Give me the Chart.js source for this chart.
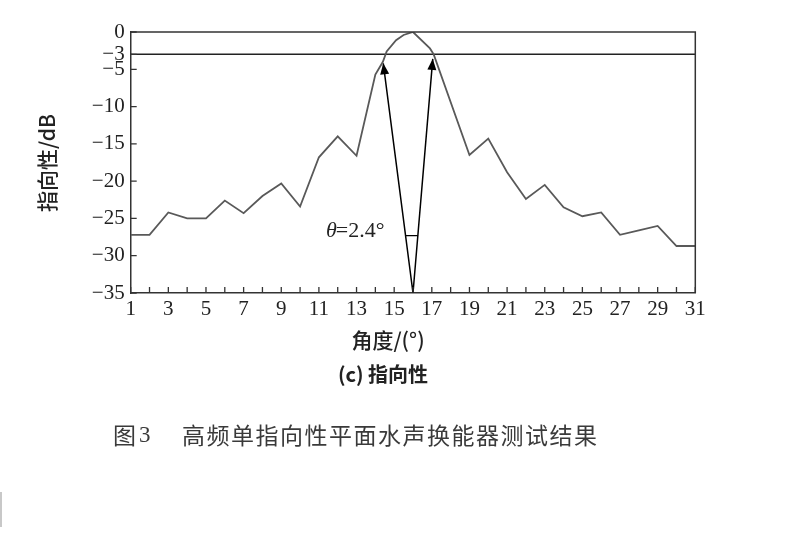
<!DOCTYPE html>
<html>
<head>
<meta charset="utf-8">
<script src="https://cdn.jsdelivr.net/npm/chart.js@4.4.1/dist/chart.umd.min.js"></script>
<style>
  html, body { margin: 0; padding: 0; background: #fff; }
  #wrap { position: relative; width: 789px; height: 535px; }
  #edge { position: absolute; left: 0; top: 492px; width: 2px; height: 35px; background: #c8c8c8; }
</style>
</head>
<body>
<div id="wrap">
  <canvas id="dirChart" width="789" height="535"></canvas>
  <div id="edge"></div>
</div>
<script>
// ─── Data ─────────────────────────────────────────────────────────────────────
const angles = [1, 2, 3, 4, 5, 6, 7, 8, 9, 10, 11, 12, 13, 14, 14.4, 14.6, 15.1, 15.5, 16,
                16.9, 17.1, 19, 20, 21, 22, 23, 24, 25, 26, 27, 28, 29, 30, 31];
const levels = [-27.2, -27.2, -24.2, -25.0, -25.0, -22.6, -24.3, -22.0, -20.3, -23.4, -16.8, -14.0, -16.6, -5.7, -4.0, -2.6, -1.1, -0.4, 0,
                -2.2, -3.0, -16.5, -14.3, -18.8, -22.4, -20.5, -23.5, -24.7, -24.2, -27.2, -26.6, -26.0, -28.7, -28.7];
const halfPowerX = [1, 31];
const halfPowerY = [-3, -3];
const arrowX = [14.42, 16, 17.05];
const arrowY = [-4.2, -35, -3.6];
const arcX = [15.62, 16.27];
const arcY = [-27.3, -27.3];
const yTicks = [0, -3, -5, -10, -15, -20, -25, -30, -35];
const xMin = 1, xMax = 31;

const SERIF = "'Liberation Serif', 'DejaVu Serif', serif";
const CJK = "'Noto Sans CJK SC', sans-serif";
const INK = "#333";

const pts = (xs, ys) => xs.map((x, i) => ({ x, y: ys[i] }));

// inside ticks, box frame, arrowheads, texts
const decor = {
  id: "decor",
  afterDatasetsDraw(chart) {
    const { ctx, chartArea: a, scales: { x, y } } = chart;
    ctx.save();
    ctx.strokeStyle = INK;
    ctx.lineWidth = 1.5;
    // frame top + right
    ctx.beginPath();
    ctx.moveTo(a.left, a.top); ctx.lineTo(a.right, a.top); ctx.lineTo(a.right, a.bottom);
    ctx.stroke();
    // inside ticks
    ctx.lineWidth = 1.3;
    ctx.beginPath();
    for (let v = xMin; v <= xMax; v++) {
      const px = x.getPixelForValue(v);
      ctx.moveTo(px, a.bottom); ctx.lineTo(px, a.bottom - 6);
    }
    yTicks.forEach(v => {
      const py = y.getPixelForValue(v);
      ctx.moveTo(a.left, py); ctx.lineTo(a.left + 6, py);
    });
    ctx.stroke();

    // arrowheads at the two open ends of the V
    ctx.fillStyle = "#000";
    [[0, 1], [2, 1]].forEach(([tip, base]) => {
      const tx = x.getPixelForValue(arrowX[tip]), ty = y.getPixelForValue(arrowY[tip]);
      const bx = x.getPixelForValue(arrowX[base]), by = y.getPixelForValue(arrowY[base]);
      const ang = Math.atan2(ty - by, tx - bx);
      const L = 11, W = 4.5;
      ctx.beginPath();
      ctx.moveTo(tx, ty);
      ctx.lineTo(tx - L * Math.cos(ang) + W * Math.sin(ang), ty - L * Math.sin(ang) - W * Math.cos(ang));
      ctx.lineTo(tx - L * Math.cos(ang) - W * Math.sin(ang), ty - L * Math.sin(ang) + W * Math.cos(ang));
      ctx.closePath();
      ctx.fill();
    });

    // θ label
    ctx.fillStyle = "#222";
    ctx.textBaseline = "alphabetic";
    ctx.textAlign = "left";
    ctx.font = "italic 22px " + SERIF;
    ctx.fillText("θ", 326, 237);
    const tw = ctx.measureText("θ").width;
    ctx.font = "22px " + SERIF;
    ctx.fillText("=2.4°", 326 + tw - 1, 237);

    // y title
    ctx.save();
    ctx.translate(47, 163);
    ctx.rotate(-Math.PI / 2);
    ctx.textAlign = "center";
    ctx.textBaseline = "middle";
    ctx.font = "500 21px " + CJK;
    ctx.fillText("指向性/dB", 0, 0);
    ctx.restore();

    // x title and sub caption
    ctx.textAlign = "center";
    ctx.textBaseline = "middle";
    ctx.font = "500 21px " + CJK;
    ctx.fillText("角度/(°)", 388, 340);
    ctx.font = "bold 20px " + CJK;
    ctx.fillText("(c) 指向性", 383, 374);

    // figure caption
    ctx.fillStyle = "#3a3a3a";
    ctx.textAlign = "left";
    ctx.font = "23px " + CJK;
    ctx.fillText("图", 113, 435);
    ctx.font = "23px " + SERIF;
    ctx.fillText("3", 139, 436);
    ctx.font = "23px " + CJK;
    ctx.letterSpacing = "1.5px";
    ctx.fillText("高频单指向性平面水声换能器测试结果", 182, 435);
    ctx.restore();
  }
};

new Chart(document.getElementById("dirChart"), {
  type: "line",
  data: {
    datasets: [
      { data: pts(angles, levels), borderColor: "#595959", borderWidth: 1.8, pointRadius: 0, tension: 0 },
      { data: pts(halfPowerX, halfPowerY), borderColor: "#222", borderWidth: 1.5, pointRadius: 0 },
      { data: pts(arrowX, arrowY), borderColor: "#000", borderWidth: 1.5, pointRadius: 0 },
      { data: pts(arcX, arcY), borderColor: "#000", borderWidth: 1.3, pointRadius: 0 }
    ]
  },
  options: {
    responsive: false,
    animation: false,
    layout: { padding: { left: 0, top: 32, right: 93.7, bottom: 212 } },
    plugins: { legend: { display: false }, tooltip: { enabled: false } },
    scales: {
      x: {
        type: "linear", min: xMin, max: xMax,
        afterFit: s => { s.height = 30; },
        afterBuildTicks: s => { s.ticks = []; for (let v = xMin; v <= xMax; v += 2) s.ticks.push({ value: v }); },
        grid: { display: false, drawTicks: false },
        border: { display: true, color: INK, width: 1.5 },
        ticks: { autoSkip: false, maxRotation: 0, padding: 4, color: "#222",
                 font: { family: SERIF, size: 21 } }
      },
      y: {
        min: -35, max: 0,
        afterFit: s => { s.width = 130.7; },
        afterBuildTicks: s => { s.ticks = yTicks.map(v => ({ value: v })); },
        grid: { display: false, drawTicks: false },
        border: { display: true, color: INK, width: 1.5 },
        ticks: { autoSkip: false, padding: 6, color: "#222",
                 font: { family: SERIF, size: 21 },
                 callback: v => v === 0 ? "0" : "\u2212" + Math.abs(v) }
      }
    }
  },
  plugins: [decor]
});
</script>
</body>
</html>
